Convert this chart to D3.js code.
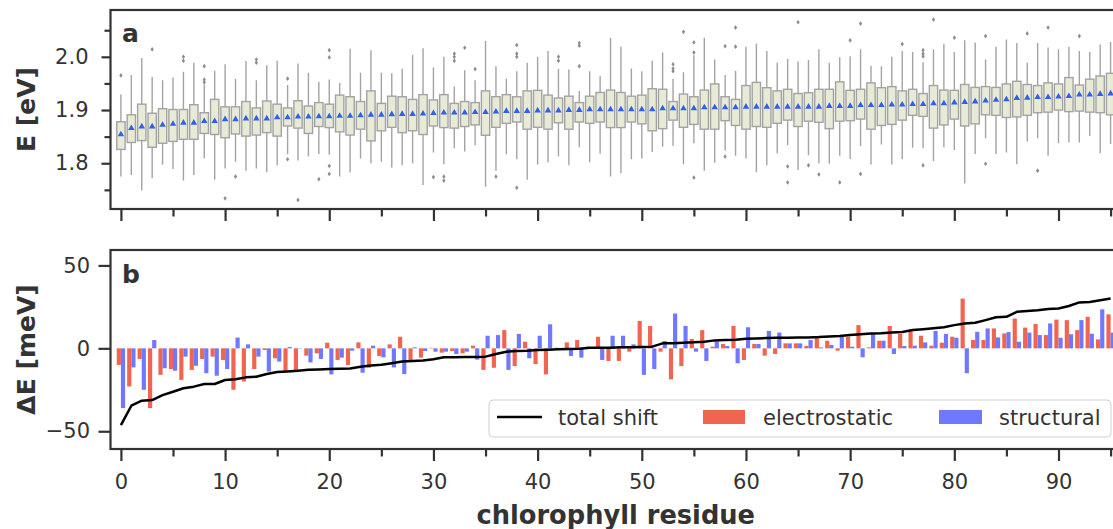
<!DOCTYPE html>
<html>
<head>
<meta charset="utf-8">
<script src="https://cdn.jsdelivr.net/npm/d3@7"></script>
<style>
	body { margin: 0; background: #fff; }
	text { font-family: "DejaVu Sans", sans-serif; fill: #333; }
</style>
</head>
<body>
<script>

// Data

var residues = d3.range(96);
var xTicks = [0, 10, 20, 30, 40, 50, 60, 70, 80, 90];
var eTicks = [1.8, 1.9, 2.0];
var dTicks = [-50, 0, 50];

var meanE = [1.854,1.866,1.869,1.869,1.872,1.874,1.876,1.876,1.879,1.879,1.8825,1.8825,1.884,1.884,1.884,1.886,1.886,1.8875,1.8875,1.888,
	1.888,1.889,1.889,1.890,1.891,1.891,1.892,1.8925,1.8925,1.893,1.894,1.895,1.895,1.895,1.896,1.896,1.897,1.898,1.898,1.898,
	1.899,1.899,1.899,1.900,1.900,1.901,1.901,1.901,1.901,1.901,1.901,1.901,1.903,1.903,1.903,1.903,1.905,1.905,1.905,1.905,
	1.906,1.906,1.906,1.906,1.906,1.906,1.906,1.906,1.9075,1.9075,1.9075,1.909,1.909,1.909,1.910,1.910,1.911,1.911,1.9125,1.9125,
	1.914,1.915,1.916,1.9175,1.919,1.920,1.9225,1.923,1.924,1.924,1.925,1.926,1.929,1.929,1.930,1.931];

var q3E = [1.878,1.891,1.911,1.894,1.9025,1.901,1.901,1.910,1.895,1.920,1.906,1.906,1.916,1.904,1.917,1.911,1.904,1.9175,1.9075,1.914,
	1.911,1.928,1.925,1.916,1.936,1.9125,1.926,1.925,1.920,1.929,1.919,1.929,1.9125,1.916,1.914,1.936,1.925,1.929,1.925,1.936,
	1.937,1.928,1.9225,1.926,1.914,1.926,1.933,1.9375,1.933,1.926,1.928,1.940,1.939,1.916,1.930,1.925,1.9375,1.949,1.925,1.920,
	1.946,1.952,1.942,1.936,1.939,1.931,1.9325,1.939,1.939,1.953,1.937,1.939,1.951,1.942,1.944,1.936,1.939,1.931,1.946,1.9375,
	1.937,1.948,1.9425,1.944,1.9425,1.949,1.954,1.948,1.946,1.951,1.949,1.961,1.947,1.958,1.964,1.969];

var q1E = [1.826,1.839,1.8425,1.830,1.8375,1.841,1.845,1.845,1.856,1.854,1.848,1.855,1.851,1.853,1.8575,1.851,1.870,1.866,1.856,1.869,
	1.867,1.859,1.853,1.864,1.842,1.861,1.8675,1.8575,1.861,1.854,1.870,1.867,1.866,1.869,1.872,1.8525,1.8675,1.875,1.8775,1.864,
	1.8675,1.864,1.876,1.864,1.8775,1.875,1.8775,1.867,1.867,1.8775,1.874,1.861,1.865,1.881,1.8675,1.873,1.864,1.864,1.880,1.871,
	1.864,1.869,1.8675,1.875,1.881,1.869,1.879,1.877,1.865,1.879,1.880,1.883,1.864,1.871,1.873,1.881,1.890,1.888,1.866,1.872,
	1.883,1.870,1.874,1.891,1.890,1.886,1.887,1.890,1.895,1.896,1.900,1.897,1.898,1.896,1.895,1.891];

var hiE = [1.929,1.966,1.998,1.962,1.956,1.961,1.972,1.989,1.948,1.974,1.986,1.959,1.992,1.956,1.984,1.9925,1.947,1.9875,1.970,1.953,
	1.9575,1.951,2.015,1.970,2.0125,1.970,1.969,1.9775,2.004,2.016,1.980,2.000,1.944,1.975,1.956,2.030,1.9825,1.959,1.973,1.989,
	2.000,2.011,1.977,1.976,1.936,1.973,1.964,2.036,2.019,1.978,1.973,1.9925,2.008,1.959,1.971,2.003,2.036,1.995,1.966,1.974,
	2.019,2.025,2.011,1.989,1.996,1.991,1.994,2.014,1.989,1.999,2.001,2.014,1.983,1.9825,2.000,2.011,2.009,1.990,2.014,2.024,
	2.009,2.031,2.027,1.995,2.019,2.0325,2.026,1.989,2.026,2.0175,2.014,2.019,2.011,2.009,2.023,2.028];

var loE = [1.775,1.778,1.749,1.772,1.797,1.789,1.7675,1.778,1.809,1.769,1.790,1.803,1.786,1.790,1.783,1.796,1.817,1.805,1.8125,1.8175,
	1.816,1.775,1.7825,1.809,1.800,1.803,1.792,1.796,1.800,1.759,1.820,1.798,1.828,1.822,1.834,1.756,1.786,1.817,1.8075,1.769,
	1.7975,1.802,1.813,1.796,1.830,1.802,1.818,1.775,1.781,1.8075,1.809,1.821,1.831,1.833,1.798,1.8375,1.786,1.801,1.824,1.814,
	1.809,1.783,1.796,1.819,1.834,1.7875,1.815,1.800,1.799,1.814,1.808,1.8325,1.7975,1.835,1.7975,1.8075,1.829,1.828,1.804,1.830,
	1.825,1.762,1.8175,1.847,1.8175,1.820,1.798,1.841,1.847,1.814,1.8375,1.839,1.839,1.851,1.819,1.836];

// outliers as [residue, E]
var outliersE = [[0,1.965],[3,2.014],[6,2.0],[6,1.9925],[8,1.9825],[8,1.957],[8,1.952],[10,1.734],[11,1.775],[13,1.995],
	[13,1.989],[16,1.959],[16,1.8075],[17,1.731],[19,1.77],[20,2.0125],[20,1.999],[20,1.795],[20,1.78],[30,1.774],
	[31,1.775],[31,1.7675],[32,2.006],[32,2.0],[32,1.9925],[33,2.017],[34,1.977],[36,1.775],[38,2.022],[38,2.006],
	[38,2.0],[38,1.754],[42,2.0],[42,1.9925],[44,2.026],[44,2.021],[44,1.9825],[53,1.986],[53,1.978],[53,1.973],
	[54,2.047],[55,2.027],[55,2.008],[55,1.773],[58,2.02],[58,1.8125],[59,2.055],[59,2.019],[64,1.794],[64,1.764],
	[65,2.065],[66,1.796],[67,1.779],[69,1.764],[70,2.031],[71,2.0625],[71,1.78],[75,2.024],[77,2.0125],[77,2.006],
	[77,2.001],[77,1.796],[78,2.07],[80,2.036],[83,2.039],[83,1.799],[87,2.044],[88,1.786],[89,2.055],[92,2.039]];

var elecShift = [-10,-23,-6.4,-36,-16,-12.5,-19,-13,-6.4,-5,-7,-25,-20,-12.5,-1,-6,-13.7,-13.7,-4.4,-3,
	3.4,-7,-10,3.6,-11.7,-4.6,2.4,7,-7,-5.6,0.3,-2.6,-1.6,-3,1.6,-13,-11.7,11,-10.7,4,
	-9.5,-15.7,0.4,3.6,5,1,7,-7.6,-7.6,-2,16.5,13.5,-2,-18.7,-10.7,5.6,11,1,2.6,13.5,
	-7,2.6,-4.4,-3.4,3,3,1.4,6.4,4.6,-1.4,7,14,0.6,4.6,13.5,8.7,10.5,7.6,1.6,3.4,
	7,30,5,5,12,9,18,12.5,14.7,8,17.3,17,11,19,5.4,20.5];

var structShift = [-36,-11.5,-25,5,-12,-13.5,-5,-10.5,-15,-16.5,-12.5,6.5,2.4,-5,-14,-8,0.8,0.2,-8.5,-6.4,
	-15.7,-5.6,-1.4,-14.7,1.6,-5.4,-11.5,-15.5,0.6,-1.6,-2,-2,-3.4,-2,-6.8,7.6,8,-13,8.7,-6,
	7.6,14.5,-0.4,-4.6,-5.6,0.8,-7,7.6,7.6,2.4,-16,-12.5,4.4,21,13.5,-2,-7.6,4,1.4,-9,
	12.7,2.6,10.5,9.5,3,3,5,0.6,2,7,1,-5.4,8.7,4.6,-3.4,1.4,1.6,3.6,10.5,8.7,
	6.4,-15,10,12,6.6,9.8,4,9.5,8,15,6.4,8.5,17,8.8,23.5,9.5];

var totalShift = [-46.3,-34.6,-31.6,-31.2,-28.2,-26.2,-24.1,-23.1,-21.5,-21.5,-19.1,-18.7,-17.5,-17.1,-15.5,-14.3,-13.9,-13.5,-12.9,-12.7,
	-12.5,-12.3,-12.1,-11.1,-10.3,-9.9,-9,-8,-7.6,-7.4,-6.6,-5.4,-5.4,-5.2,-5.2,-5,-3.4,-2,-1.6,-1.4,
	-1,-0.8,-0.6,-0.4,-0.2,0.4,0.4,0.4,0.6,0.6,0.8,1,3,3,3.4,3.6,4,4.8,5,5.2,
	5.8,6,6.2,6.4,6.4,6.6,6.6,6.8,7.2,7.4,8,8.5,8.9,9.1,9.5,9.9,11,11.5,12.1,12.7,
	14,15,15.4,17,18.7,19,22,22.5,23,23.7,24,25.5,27.7,28,29,30];

// Layout

var
	width = 1113,
	height = 529,
	left = 110.5,
	right = 1121,
	topA = 10, botA = 209,
	topB = 250, botB = 449,
	ink = '#333',
	boxFill = '#e7ead5',
	boxEdge = '#a3a3a3',
	red = '#f06450',
	blue = '#7078ff';

var svg = d3.select('body').append('svg')
	.attr('width', width)
	.attr('height', height);

var x = d3.scaleLinear().domain([-1, 96]).range([left, right]);
var yA = d3.scaleLinear().domain([1.714, 2.088]).range([botA, topA]);
var yB = d3.scaleLinear().domain([-60.7, 59.3]).range([botB, topB]);

svg.append('clipPath').attr('id', 'clipA')
	.append('rect').attr('x', left).attr('y', topA).attr('width', right - left).attr('height', botA - topA);
svg.append('clipPath').attr('id', 'clipB')
	.append('rect').attr('x', left).attr('y', topB).attr('width', right - left).attr('height', botB - topB);

// Panel a: box plots

var gA = svg.append('g').attr('clip-path', 'url(#clipA)');
var half = 0.4;

var box = gA.selectAll('g.box')
	.data(residues)
	.enter()
	.append('g')
	.attr('class', 'box');

box.append('line')
	.attr('x1', function(d) {return x(d);})
	.attr('x2', function(d) {return x(d);})
	.attr('y1', function(d) {return yA(hiE[d]);})
	.attr('y2', function(d) {return yA(q3E[d]);})
	.style('stroke', boxEdge).style('stroke-width', 1.4);

box.append('line')
	.attr('x1', function(d) {return x(d);})
	.attr('x2', function(d) {return x(d);})
	.attr('y1', function(d) {return yA(q1E[d]);})
	.attr('y2', function(d) {return yA(loE[d]);})
	.style('stroke', boxEdge).style('stroke-width', 1.4);

box.append('rect')
	.attr('x', function(d) {return x(d - half);})
	.attr('width', function(d) {return x(d + half) - x(d - half);})
	.attr('y', function(d) {return yA(q3E[d]);})
	.attr('height', function(d) {return yA(q1E[d]) - yA(q3E[d]);})
	.style('fill', boxFill)
	.style('stroke', boxEdge)
	.style('stroke-width', 1.4);

gA.selectAll('path.outlier')
	.data(outliersE)
	.enter()
	.append('path')
	.attr('class', 'outlier')
	.attr('d', d3.symbol().type(d3.symbolDiamond2).size(14))
	.attr('transform', function(d) {return 'translate(' + x(d[0]) + ',' + yA(d[1]) + ') scale(0.7,1)';})
	.style('fill', '#8c8c8c');

gA.selectAll('path.mean')
	.data(residues)
	.enter()
	.append('path')
	.attr('class', 'mean')
	.attr('d', d3.symbol().type(d3.symbolTriangle).size(18))
	.attr('transform', function(d) {return 'translate(' + x(d) + ',' + yA(meanE[d]) + ')';})
	.style('fill', '#2f60e8');

// Panel b: shifts

var gB = svg.append('g').attr('clip-path', 'url(#clipB)');

gB.selectAll('rect.elec')
	.data(residues)
	.enter()
	.append('rect')
	.attr('class', 'elec')
	.attr('x', function(d) {return x(d - 0.4);})
	.attr('width', x(0.4) - x(0))
	.attr('y', function(d) {return yB(Math.max(0, elecShift[d]));})
	.attr('height', function(d) {return Math.abs(yB(elecShift[d]) - yB(0));})
	.style('fill', red);

gB.selectAll('rect.struct')
	.data(residues)
	.enter()
	.append('rect')
	.attr('class', 'struct')
	.attr('x', function(d) {return x(d);})
	.attr('width', x(0.4) - x(0))
	.attr('y', function(d) {return yB(Math.max(0, structShift[d]));})
	.attr('height', function(d) {return Math.abs(yB(structShift[d]) - yB(0));})
	.style('fill', blue);

gB.append('path')
	.datum(residues)
	.attr('d', d3.line()
		.x(function(d) {return x(d);})
		.y(function(d) {return yB(totalShift[d]);}))
	.style('fill', 'none')
	.style('stroke', '#000')
	.style('stroke-width', 2.5)
	.style('stroke-linejoin', 'round');

// Axes

function styleAxis(g) {
	g.select('.domain').remove();
	g.selectAll('.tick line').style('stroke', ink).style('stroke-width', 2.2);
	g.selectAll('.tick text').style('font-size', '21px').style('fill', ink);
}

var minorX = d3.range(5, 96, 10);

[botA, botB].forEach(function(yy, i) {
	svg.append('g')
		.attr('transform', 'translate(0,' + yy + ')')
		.call(d3.axisBottom(x).tickValues(xTicks).tickSize(12).tickPadding(13)
			.tickFormat(i === 0 ? '' : d3.format('d')))
		.call(styleAxis);
	svg.append('g')
		.attr('transform', 'translate(0,' + yy + ')')
		.call(d3.axisBottom(x).tickValues(minorX).tickSize(7.5).tickFormat(''))
		.call(styleAxis);
});

svg.append('g')
	.attr('transform', 'translate(' + left + ',0)')
	.call(d3.axisLeft(yA).tickValues(eTicks).tickSize(9).tickPadding(13).tickFormat(d3.format('.1f')))
	.call(styleAxis);
svg.append('g')
	.attr('transform', 'translate(' + left + ',0)')
	.call(d3.axisLeft(yA).tickValues([1.75, 1.85, 1.95, 2.05]).tickSize(6).tickFormat(''))
	.call(styleAxis);

svg.append('g')
	.attr('transform', 'translate(' + left + ',0)')
	.call(d3.axisLeft(yB).tickValues(dTicks).tickSize(12).tickPadding(8.5)
		.tickFormat(function(d) {return d < 0 ? '\u2212' + Math.abs(d) : d;}))
	.call(styleAxis);

// Frames

[[topA, botA], [topB, botB]].forEach(function(p) {
	svg.append('rect')
		.attr('x', left)
		.attr('y', p[0])
		.attr('width', right - left)
		.attr('height', p[1] - p[0])
		.style('fill', 'none')
		.style('stroke', ink)
		.style('stroke-width', 2.2);
});

// Labels

svg.append('text')
	.attr('x', 122).attr('y', 42)
	.style('font-size', '25px').style('font-weight', 'bold')
	.text('a');
svg.append('text')
	.attr('x', 122).attr('y', 283)
	.style('font-size', '25px').style('font-weight', 'bold')
	.text('b');

svg.append('text')
	.attr('transform', 'translate(35,' + (topA + botA) / 2 + ') rotate(-90)')
	.attr('text-anchor', 'middle')
	.style('font-size', '25px').style('font-weight', 'bold')
	.text('E [eV]');
svg.append('text')
	.attr('transform', 'translate(35,' + (topB + botB) / 2 + ') rotate(-90)')
	.attr('text-anchor', 'middle')
	.style('font-size', '25px').style('font-weight', 'bold')
	.text('\u0394E [meV]');

svg.append('text')
	.attr('x', (left + right) / 2).attr('y', 524)
	.attr('text-anchor', 'middle')
	.style('font-size', '25.7px').style('font-weight', 'bold')
	.text('chlorophyll residue');

// Legend

var legend = svg.append('g');

legend.append('rect')
	.attr('x', 489).attr('y', 400)
	.attr('width', 622).attr('height', 37)
	.attr('rx', 4)
	.style('fill', 'rgba(255,255,255,0.85)')
	.style('stroke', '#d0d0d0')
	.style('stroke-width', 1);

legend.append('line')
	.attr('x1', 497).attr('x2', 542)
	.attr('y1', 417).attr('y2', 417)
	.style('stroke', '#000').style('stroke-width', 2.5);
legend.append('text').attr('x', 558).attr('y', 425).style('font-size', '21px').text('total shift');

legend.append('rect').attr('x', 703).attr('y', 410).attr('width', 42).attr('height', 14).style('fill', red);
legend.append('text').attr('x', 763).attr('y', 425).style('font-size', '21px').text('electrostatic');

legend.append('rect').attr('x', 939).attr('y', 410).attr('width', 43).attr('height', 14).style('fill', blue);
legend.append('text').attr('x', 999).attr('y', 425).style('font-size', '21px').text('structural');

</script>
</body>
</html>
